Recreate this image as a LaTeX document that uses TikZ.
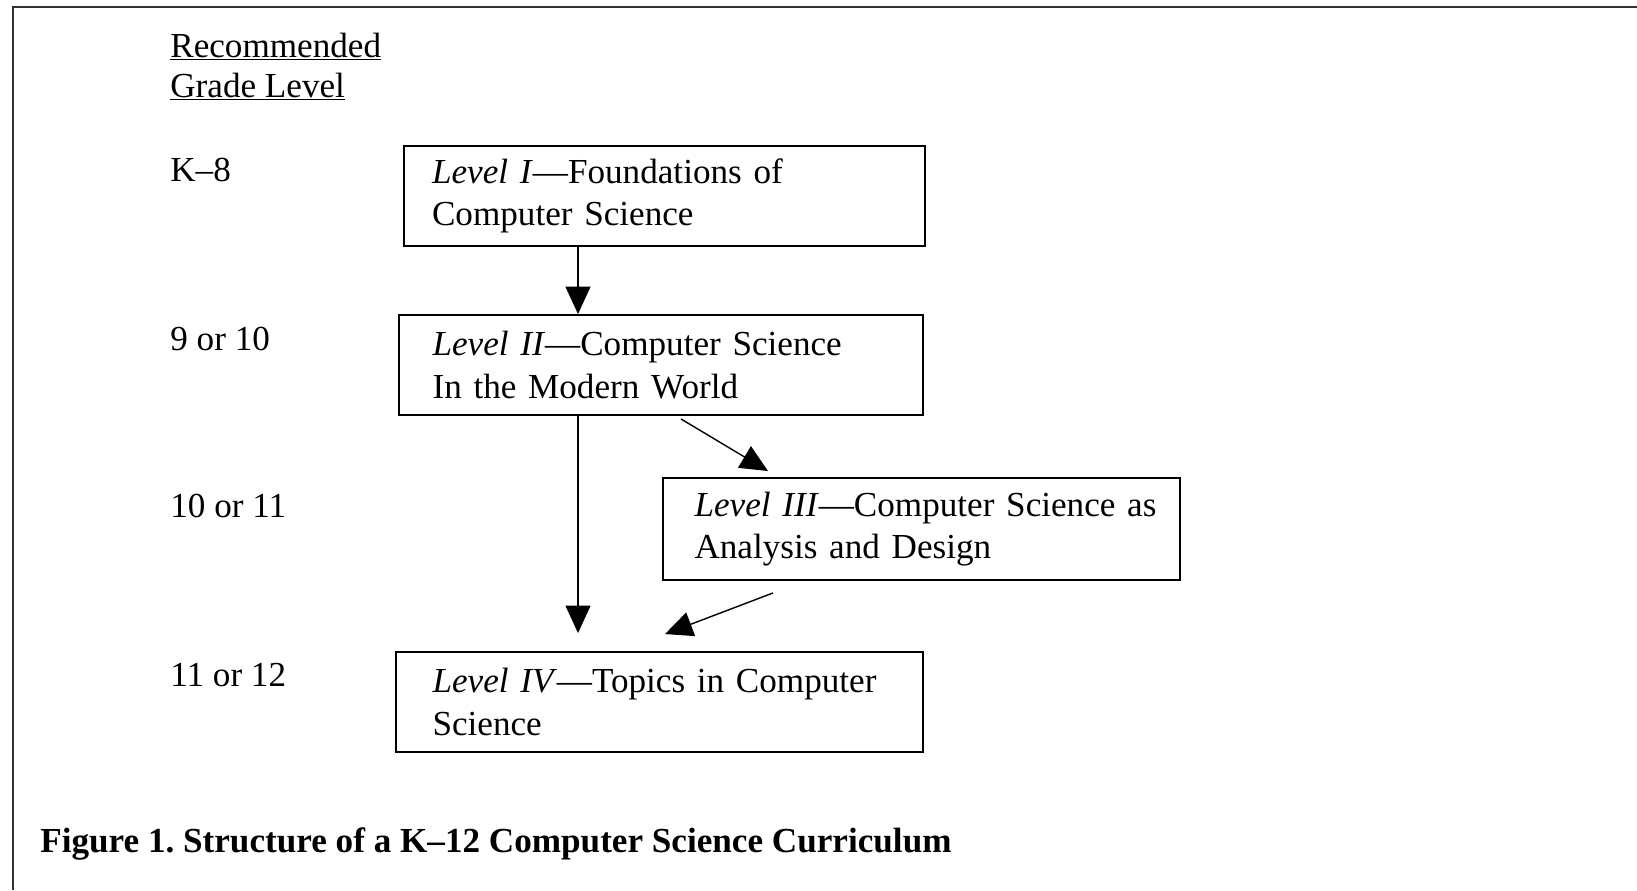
\documentclass[tikz,border=0pt]{standalone}
\usepackage{fontspec}
\setmainfont{Liberation Serif}
\usetikzlibrary{arrows.meta}
\newcommand\diafont{\fontsize{20}{24}\selectfont\frenchspacing}

\begin{document}
\begin{tikzpicture}[x=0.02cm,y=-0.02cm,font=\diafont,
    lvlbox/.style={draw, line width=1.1pt, align=left, inner xsep=#1, minimum height=2cm},
    grade/.style={anchor=base west, inner sep=0pt},
    arr/.style={-{Triangle[length=0.55cm,width=0.5cm]}, line width=0.8pt}]
		%%%%% FRAME %%%%%
		\useasboundingbox (0,0) rectangle (1637,890);
		\draw[line width=1.4pt, black!80] (13,890) -- (13,7) -- (1637,7);
		
		%%%%% GRADES %%%%%
		\node[grade] (hdra) at (170,57) {\underline{Recommended}};
		\node[grade] (hdrb) at (170,97) {\underline{Grade Level}};
		\node[grade] (gk8) at (170,181) {K–8};
		\node[grade] (g910) at (170,350) {9 or 10};
		\node[grade] (g1011) at (170,517) {10 or 11};
		\node[grade] (g1112) at (170,686) {11 or 12};
		
		%%%%% LEVELS %%%%%
		\node[lvlbox=0.56cm, text width=9.3cm] (lvlone) at (664.5,196)
		  {\mbox{\textit{Level I}—Foundations of}\\\mbox{Computer Science}};
		\node[lvlbox=0.67cm, text width=9.14cm] (lvltwo) at (661,365)
		  {\mbox{\textit{Level II}—Computer Science}\\\mbox{In the Modern World}};
		\node[lvlbox=0.63cm, text width=9.08cm, minimum height=2.04cm] (lvlthree) at (921.5,529)
		  {\mbox{\textit{Level III}—Computer Science as}\\\mbox{Analysis and Design}};
		\node[lvlbox=0.73cm, text width=9.08cm] (lvlfour) at (659.5,702)
		  {\mbox{\textit{Level IV}—Topics in Computer}\\\mbox{Science}};
		
		%%%%% ARROWS %%%%%
		\coordinate (spine) at (578,0);
		\draw[arr] (lvlone.south -| spine) -- (lvltwo.north -| spine);
		\draw[arr, shorten >=0.36cm] (lvltwo.south -| spine) -- (lvlfour.north -| spine);
		\draw[arr] ([xshift=0.4cm,yshift=-0.06cm]lvltwo.south) -- ([xshift=-3.07cm,yshift=0.12cm]lvlthree.north);
		\draw[arr] ([xshift=-2.97cm,yshift=-0.24cm]lvlthree.south) -- ([xshift=0.11cm,yshift=0.34cm]lvlfour.north);
		
		%%%%% CAPTION %%%%%
		\node[grade, font=\diafont\bfseries] (cap) at (40,852) {Figure 1. Structure of a K–12 Computer Science Curriculum};
\end{tikzpicture}
\end{document}
